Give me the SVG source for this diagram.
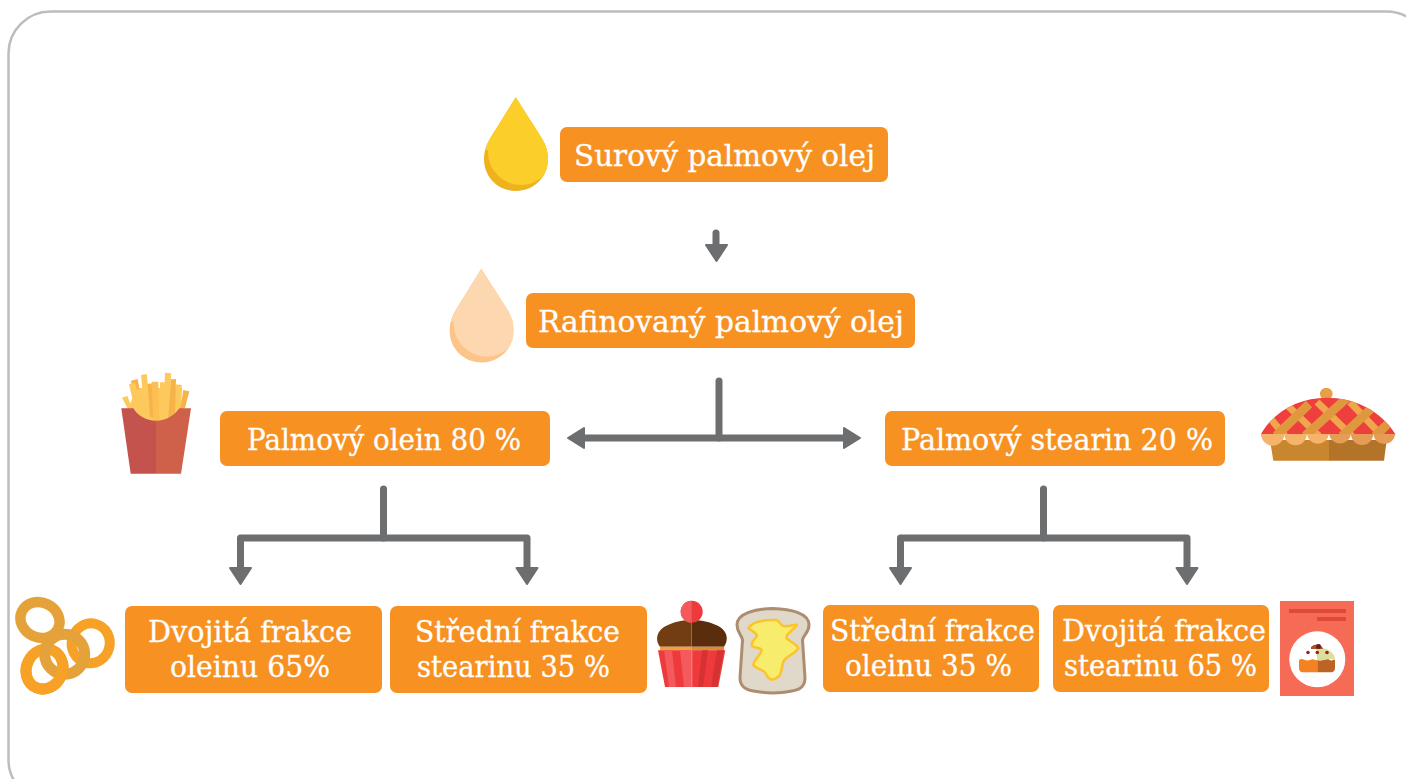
<svg xmlns="http://www.w3.org/2000/svg" width="1406" height="779" viewBox="0 0 1406 779">
<style>
.box{fill:#f79122}
.t{font-family:"DejaVu Serif","Liberation Serif",serif;font-size:29px;fill:#fff;stroke:#fff;stroke-width:.3}
.wire{fill:none;stroke:#6d6e70;stroke-width:7;stroke-linecap:round;stroke-linejoin:round}
.head{fill:#6d6e70;stroke:#6d6e70;stroke-width:2;stroke-linejoin:round}
</style>
<defs>
<path id="drop" d="M515.700 97.300L491 137C486 145 484 152 484 159C484 177 498 191 516 191C534 191 548 177 548 159C548 152 546 145 541 137Z"/>
<clipPath id="d1"><use href="#drop"/></clipPath>
<clipPath id="dome"><path d="M1261 434C1275 410 1300 397.700 1326.700 397.700C1354 397.700 1380 410 1395.300 434Z"/></clipPath>
<clipPath id="r3top"><rect x="15" y="661" width="60" height="40"/></clipPath>
</defs>
<rect id="frame" x="8.500" y="11.500" width="1420" height="790" rx="42" fill="#fff" stroke="#bdbdbd" stroke-width="2.500"/>

<g id="connectors">
<path class="wire" d="M716 233V246"/>
<path class="head" d="M706 245H727L716.500 261Z"/>
<path class="wire" d="M719 381V438"/>
<path class="wire" d="M580 438H850"/>
<path class="head" d="M584 428V448L568 438Z"/>
<path class="head" d="M844 428V448L860 438Z"/>
<path class="wire" d="M383.500 489V538"/>
<path class="wire" d="M240.500 569V538H527V569"/>
<path class="head" d="M230 568H251L240.500 584Z"/>
<path class="head" d="M516.500 568H537.500L527 584Z"/>
<path class="wire" d="M1043.500 489V538"/>
<path class="wire" d="M900.500 569V538H1187V569"/>
<path class="head" d="M890 568H911L900.500 584Z"/>
<path class="head" d="M1176.500 568H1197.500L1187 584Z"/>
</g>

<g id="node-surovy">
<rect class="box" x="560" y="127" width="328" height="55" rx="7"/>
<text class="t" x="574" y="166" textLength="301" lengthAdjust="spacingAndGlyphs">Surový palmový olej</text>
</g>
<g id="icon-drop-yellow">
<use href="#drop" fill="#edb21e"/>
<g clip-path="url(#d1)"><circle cx="521" cy="152" r="33" fill="#fbce29"/><path d="M515.700 90L480 150H555Z" fill="#fbce29"/></g>
</g>
<g id="node-rafinovany">
<rect class="box" x="526" y="293" width="389" height="55" rx="7"/>
<text class="t" x="538" y="332" textLength="366" lengthAdjust="spacingAndGlyphs">Rafinovaný palmový olej</text>
</g>
<g id="icon-drop-pale" transform="translate(-34.400 171.400)">
<use href="#drop" fill="#fdc48a"/>
<g clip-path="url(#d1)"><circle cx="521" cy="152" r="33" fill="#fdd7af"/><path d="M515.700 90L480 150H555Z" fill="#fdd7af"/></g>
</g>

<g id="node-olein">
<rect class="box" x="220" y="411" width="330" height="55" rx="7"/>
<text class="t" x="247" y="450" textLength="274" lengthAdjust="spacingAndGlyphs">Palmový olein 80 %</text>
</g>
<g id="icon-fries">
<path d="M128 410L136 388H182L181 410L170 424H140Z" fill="#fec95c"/>
<g fill="#f5b34a">
<path d="M131 380.700L137.700 379L143.300 410H136.700Z"/>
<path d="M183.300 390L189.300 391.300L185 408.300L180 410Z"/>
</g>
<g fill="#fec95c">
<path d="M122 397.700L127.300 396L133.300 410H128.300Z"/>
<path d="M129 384L135 382.700L141.700 410H135Z"/>
<path d="M141 375L146.700 374L151.700 416.700H145Z"/>
<path d="M136.700 389.300H148.300L151.700 418L141.700 416.700Z"/>
<path d="M176 384.300L182 385L178.300 411.700L171.700 416.700Z"/>
<path d="M165 372.700L171 373.300L170 418.300L163.300 420Z"/>
<path d="M160 382.300H165L164 420H159Z"/>
</g>
<g fill="#f5b34a">
<path d="M147.700 384L151.700 383.300L155 418.300L150 416.700Z"/>
<path d="M171 379.300L176 379L175 415L168.300 418.300Z"/>
<path d="M158.300 381.700H151.700L153.300 420H159.300Z" fill="#fdbf51"/>
</g>
<path d="M121.300 408.300H133.300C138 416 146 420.700 156 420.700V473.700H130.700Z" fill="#c4534d"/>
<path d="M191 408.300H179.300C174 416 166 420.700 156 420.700V473.700H181Z" fill="#cf6049"/>
</g>

<g id="node-stearin">
<rect class="box" x="885" y="411" width="340" height="55" rx="7"/>
<text class="t" x="901" y="450" textLength="312" lengthAdjust="spacingAndGlyphs">Palmový stearin 20 %</text>
</g>
<g id="icon-pie">
<path d="M1270 440H1329V460.700H1273.300Z" fill="#c8862f"/>
<path d="M1329 440H1386.700L1384 460.700H1329Z" fill="#b3742a"/>
<circle cx="1326.300" cy="394" r="6.300" fill="#e99f45"/>
<path d="M1261 434C1275 410 1300 397.700 1326.700 397.700C1354 397.700 1380 410 1395.300 434Z" fill="#ef3e3e"/>
<g clip-path="url(#dome)">
<g stroke="#f0a64c" stroke-width="7" fill="none">
<path d="M1270 418L1285 436"/><path d="M1287 405L1319 436"/><path d="M1317 402L1352 436"/><path d="M1350 402L1382 436"/>
</g>
<g stroke="#e0983f" stroke-width="9" fill="none">
<path d="M1276 436L1309 404"/><path d="M1305 436L1349 396"/><path d="M1342 436L1374 406"/><path d="M1375 436L1392 420"/>
</g>
</g>
<path d="M1261 434H1329A11.200 11.200 0 0 1 1306.800 434A11.200 11.200 0 0 1 1284.300 434A11.600 11.600 0 0 1 1261 434Z" fill="#f5b46a"/>
<path d="M1329 434H1395.300A11.100 11.100 0 0 1 1373.200 434A11.100 11.100 0 0 1 1351 434A11.100 11.100 0 0 1 1329 434Z" fill="#e59c55"/>
</g>

<g id="node-dvojita-oleinu">
<rect class="box" x="125" y="606" width="257" height="87" rx="7"/>
<text class="t" x="148" y="642" textLength="204" lengthAdjust="spacingAndGlyphs">Dvojitá frakce</text>
<text class="t" x="170" y="677" textLength="160" lengthAdjust="spacingAndGlyphs">oleinu 65%</text>
</g>
<g id="node-stredni-stearinu">
<rect class="box" x="390" y="606" width="257" height="87" rx="7"/>
<text class="t" x="415" y="642" textLength="205" lengthAdjust="spacingAndGlyphs">Střední frakce</text>
<text class="t" x="417" y="677" textLength="193" lengthAdjust="spacingAndGlyphs">stearinu 35 %</text>
</g>
<g id="node-stredni-oleinu">
<rect class="box" x="823" y="605" width="216" height="87" rx="7"/>
<text class="t" x="830" y="641" textLength="205" lengthAdjust="spacingAndGlyphs">Střední frakce</text>
<text class="t" x="845" y="676" textLength="167" lengthAdjust="spacingAndGlyphs">oleinu 35 %</text>
</g>
<g id="node-dvojita-stearinu">
<rect class="box" x="1053" y="605" width="216" height="87" rx="7"/>
<text class="t" x="1062" y="641" textLength="204" lengthAdjust="spacingAndGlyphs">Dvojitá frakce</text>
<text class="t" x="1064" y="676" textLength="193" lengthAdjust="spacingAndGlyphs">stearinu 65 %</text>
</g>

<g id="icon-rings" fill="none">
<ellipse cx="90.700" cy="643.300" rx="19" ry="20" transform="rotate(15 90.700 643.300)" stroke="#f7a226" stroke-width="10"/>
<ellipse cx="44.500" cy="669" rx="18" ry="20.500" transform="rotate(25 44.500 669)" stroke="#f7a226" stroke-width="11"/>
<ellipse cx="40" cy="620" rx="20" ry="17.500" transform="rotate(25 40 620)" stroke="#e5a23a" stroke-width="10.500"/>
<ellipse cx="64.700" cy="654.300" rx="20" ry="20" stroke="#e5a23a" stroke-width="11"/>
<g clip-path="url(#r3top)"><ellipse cx="44.500" cy="669" rx="18" ry="20.500" transform="rotate(25 44.500 669)" stroke="#f7a226" stroke-width="11"/></g>
</g>

<g id="icon-cupcake">
<path d="M660 646.700C655 640 656 630 668 625C676 621 685 620 691.700 620V646.700Z" fill="#733d14"/>
<path d="M724 646.700C729 640 728 630 716 625C708 621 698 620 691.700 620V646.700Z" fill="#5a2d0c"/>
<path d="M691.400 620H692V646.700H691.400Z" fill="#a27850"/>
<rect x="660" y="646.700" width="32" height="3.800" fill="#f0a040"/>
<rect x="692" y="646.700" width="32" height="3.800" fill="#d68d38"/>
<path d="M658 650.300H725.300L718.300 687H665Z" fill="#ef3a3c"/>
<path d="M664 650.300H672L676 687H669ZM680 650.300H691.500V687H684Z" fill="#f4595b"/>
<path d="M702 650.300H708L703 687H698ZM717 650.300H724L717 687H711Z" fill="#d63233"/>
<rect x="691.300" y="650.300" width="1" height="36.700" fill="#f68a8a"/>
<circle cx="691.700" cy="611.700" r="11" fill="#ef3a3c"/>
<path d="M691.700 600.700A11 11 0 0 0 691.700 622.700Z" fill="#f4595b"/>
</g>

<g id="icon-toast">
<path d="M737 625C737 613 756 609 773 608.500C790 609 809 613 809 625C809 633 803 635 802.500 640L805 678C805 688 800 692 773 693C746 692 740 688 740 678L742.500 640C742 635 737 633 737 625Z" fill="#e0d8c8" stroke="#ae8c70" stroke-width="3"/>
<path d="M748.300 628.300C752 622 760 619.300 776.700 620C780 622 781 626 783.300 626C790 627 795 624 796.700 625C793 631 785 634 786.700 638.300C790 642 797 644 798.300 648.300C795 654 786 656 783.300 661.700C781 668 782 675 778.300 676.700C772 682 768 679 766 674C764 669 757 670 753.300 665C754 659 761 655 761.700 650C759 646 752 649 751.700 645C751 640 758 638 756.700 635C755 632 752 631 748.300 628.300Z" fill="#f7ec6b" stroke="#fcc32b" stroke-width="2.500" stroke-linejoin="round"/>
</g>

<g id="icon-book">
<rect x="1280" y="601" width="74" height="95" fill="#f66b55"/>
<rect x="1289" y="609" width="57" height="4" fill="#e0483a"/>
<rect x="1317" y="617" width="29" height="4" fill="#e0483a"/>
<circle cx="1317.300" cy="659.300" r="28" fill="#fff"/>
<path d="M1299 660C1303 657 1305 662 1310 660C1314 658 1315 661 1317.300 660V672.300H1303C1300 672.300 1299 670 1299 668Z" fill="#f58220"/>
<path d="M1317.300 660C1322 662 1326 657 1330 660C1332 662 1334 658 1335 660V668C1335 671 1333 672.300 1331 672.300H1317.300Z" fill="#bd6326"/>
<path d="M1316 647C1326 647 1335 652 1335 660C1330 657 1322 662 1317.300 660Z" fill="#dadf9c"/>
<path d="M1311 647C1315 643 1322 644 1323 649H1311Z" fill="#a5552a"/>
<circle cx="1318.500" cy="646.500" r="2.500" fill="#6b1c1c"/>
<circle cx="1308" cy="652.500" r="1.800" fill="#9c1f2b"/>
<circle cx="1317.300" cy="652.500" r="1.800" fill="#9c1f2b"/>
<circle cx="1327" cy="652.500" r="1.800" fill="#9c1f2b"/>
</g>
</svg>
